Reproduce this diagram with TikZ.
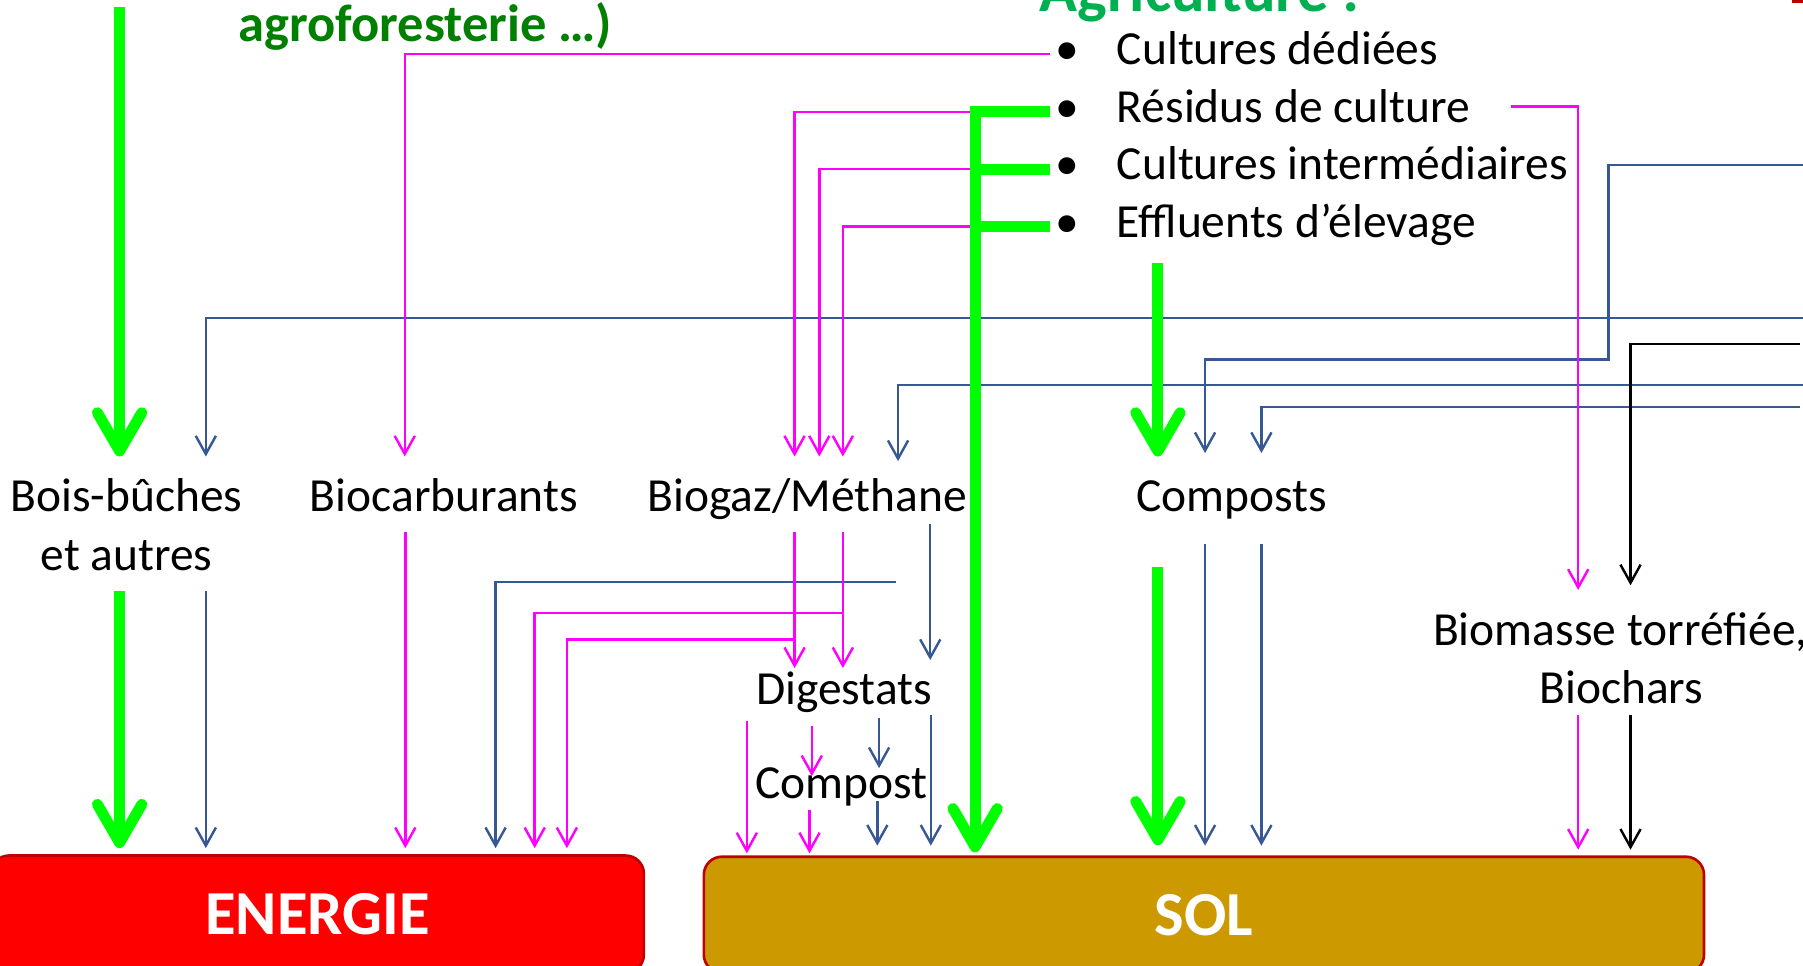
\documentclass[tikz,border=0pt]{standalone}
\usepackage{fontspec}
\setmainfont{Carlito}
\usetikzlibrary{arrows.meta}
\definecolor{bleu}{RGB}{54,88,148}
\definecolor{vertvif}{RGB}{0,255,0}
\definecolor{rose}{RGB}{255,0,255}
\definecolor{vertfonce}{RGB}{0,128,0}
\definecolor{vertagri}{RGB}{0,176,80}
\definecolor{ocre}{RGB}{204,153,0}
\definecolor{rougefonce}{RGB}{192,0,0}
\tikzset{
  fine/.style={line width=1.2pt,-{Straight Barb[length=9pt,width=10pt]}},
  large/.style={vertvif,line width=5.4pt,-{Straight Barb[length=19pt,width=22pt,round]}},
  texte/.style={font=\fontsize{23.5}{28}\selectfont,inner sep=0pt,anchor=base},
  titre/.style={font=\fontsize{26}{31}\selectfont\bfseries,inner sep=0pt,anchor=base west},
  boite/.style={draw=rougefonce,line width=1.3pt,rounded corners=9pt,inner sep=0pt,text=white,font=\fontsize{31}{37}\selectfont\bfseries}
}
\begin{document}
\begin{tikzpicture}[x=0.02cm,y=-0.02cm]
\useasboundingbox (0,0) rectangle (1568,840);
\clip (0,0) rectangle (1568,840);
\coordinate (Src1) at (1568,143.5);
\coordinate (Src2) at (1568,276.5);
\coordinate (Src3) at (1565,299);
\coordinate (Src4) at (1568,335);
\coordinate (Src5) at (1565,354);
\node [boite,fill=red,minimum width=11.36cm,minimum height=2.04cm] (Energie) at (276,795) {ENERGIE};
\node [boite,fill=ocre,minimum width=17.4cm,minimum height=2.02cm] (Sol) at (1047,795.5) {SOL};
\node [titre,vertfonce] (Agrofor) at (207,36.3) {agroforesterie …)};
\node [titre,vertagri,font=\fontsize{31}{37}\selectfont\bfseries] (Agri) at (904,10.4) {Agriculture :};
\fill [rougefonce] (1558,-5) rectangle (1568,3);
\node [texte] (Pt1) at (928,56.5) {•};
\node [texte] (Pt2) at (928,106.7) {•};
\node [texte] (Pt3) at (928,156.5) {•};
\node [texte] (Pt4) at (928,206.4) {•};
\node [texte,anchor=base west] (Dediees) at (971,56.5) {Cultures dédiées};
\node [texte,anchor=base west] (Residus) at (971,106.7) {Résidus de culture};
\node [texte,anchor=base west] (Intermed) at (971,156.5) {Cultures intermédiaires};
\node [texte,anchor=base west] (Effluents) at (971,206.4) {Effluents d’élevage};
\node [texte] (Bois) at (110,445) {Bois-bûches};
\node [texte] (Autres) at (110,496) {et autres};
\node [texte] (Biocarb) at (386,445) {Biocarburants};
\node [texte] (Biogaz) at (702,445) {Biogaz/Méthane};
\node [texte] (Composts) at (1071,445) {Composts};
\node [texte] (Digestats) at (734,613) {Digestats};
\node [texte] (Compost) at (731.5,694) {Compost};
\node [texte,anchor=base west] (Biomasse) at (1246,561) {Biomasse torréfiée,};
\node [texte] (Biochars) at (1410,612) {Biochars};
\draw [fine,bleu] (Src2) -| (179,397);
\draw [fine,bleu] (Src4) -| (781,401);
\draw [fine,bleu] (Src1) -| (1399,312.5) -| (1048,394);
\draw [fine,bleu] (Src5) -| (1097,394);
\draw [fine,bleu] (179,514) -- (179,0 |- Energie.north) [shorten >=3pt];
\draw [fine,bleu] (809,456) -- (809,574);
\draw [fine,bleu] (779,506) -| (431,0 |- Energie.north) [shorten >=3pt];
\draw [fine,bleu] (764.5,624) -- (764.5,668);
\draw [fine,bleu,shorten >=4.8pt] (809.5,622) -- (809.5,0 |- Sol.north);
\draw [fine,bleu,shorten >=4.8pt] (763,697) -- (763,0 |- Sol.north);
\draw [fine,bleu,shorten >=4.8pt] (1048,473) -- (1048,0 |- Sol.north);
\draw [fine,bleu,shorten >=4.8pt] (1097,473) -- (1097,0 |- Sol.north);
\draw [fine] (Src3) -| (1418,509);
\draw [fine,shorten >=2.8pt] (1418,622) -- (1418,0 |- Sol.north);
\draw [fine,rose] ([xshift=-2.3pt]Pt1.west) -| (352,397);
\draw [fine,rose] (848,0 |- Pt2.west) -| (691,397);
\draw [fine,rose] (848,0 |- Pt3.west) -| (712.5,397);
\draw [fine,rose] (848,0 |- Pt4.west) -| (733,397);
\draw [fine,rose] ([xshift=20pt]Residus.east) -| (1372.5,513);
\draw [fine,rose,shorten >=3pt] (352.5,463) -- (352.5,0 |- Energie.north);
\draw [fine,rose] (691,463) -- (691,581);
\draw [fine,rose] (733,463) -- (733,581);
\draw [fine,rose,shorten >=3pt] (733,533) -| (465,0 |- Energie.north);
\draw [fine,rose,shorten >=3pt] (691,556) -| (493,0 |- Energie.north);
\draw [fine,rose,shorten >=1pt] (649.5,627) -- (649.5,0 |- Sol.north);
\draw [fine,rose] (706,631) -- (706,675);
\draw [fine,rose,shorten >=1pt] (704,704) -- (704,0 |- Sol.north);
\draw [fine,rose,shorten >=2.8pt] (1372.5,622) -- (1372.5,0 |- Sol.north);
\draw [large] (104,6) -- (104,397);
\draw [large,shorten >=3pt] (104,514) -- (104,0 |- Energie.north);
\draw [vertvif,line width=5.4pt] ([xshift=-2.3pt]Pt3.west) -- (848,0 |- Pt3.west);
\draw [vertvif,line width=5.4pt] ([xshift=-2.3pt]Pt4.west) -- (848,0 |- Pt4.west);
\draw [large,shorten >=1.5pt] ([xshift=-2.3pt]Pt2.west) -| (848,0 |- Sol.north);
\draw [large] (1007,229) -- (1007,397);
\draw [large,shorten >=5pt] (1007,493) -- (1007,0 |- Sol.north);
\end{tikzpicture}
\end{document}
